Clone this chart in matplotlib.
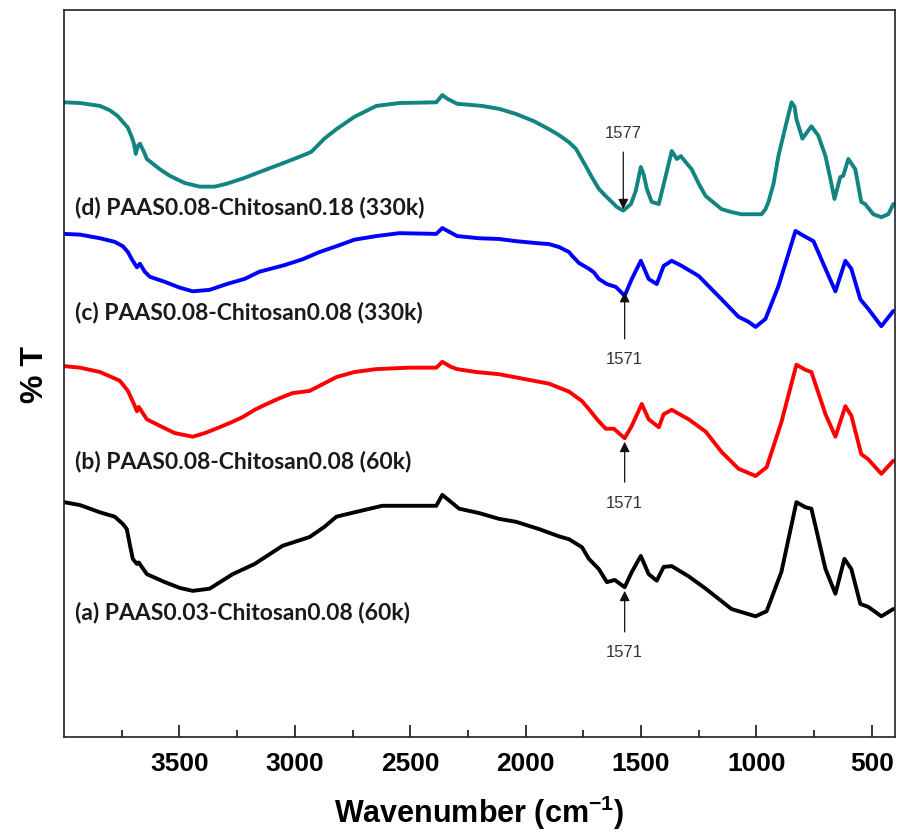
import matplotlib
matplotlib.use("Agg")
import matplotlib.pyplot as plt
from matplotlib.ticker import FixedLocator

plt.rcParams['mathtext.fontset'] = 'custom'
plt.rcParams['mathtext.rm'] = 'Liberation Sans:bold'
plt.rcParams['mathtext.bf'] = 'Liberation Sans:bold'

# (d) teal
wn_d = [4000, 3931, 3844, 3801, 3767, 3745, 3723, 3706, 3697, 3689, 3680, 3671, 3654, 3641,
        3585, 3542, 3477, 3412, 3347, 3295, 3218, 3153, 3045, 2980, 2949, 2928, 2906, 2872,
        2820, 2742, 2647, 2547, 2387, 2361, 2340, 2297, 2189, 2115, 2042, 1964, 1899, 1856,
        1812, 1782, 1739, 1713, 1683, 1653, 1627, 1605, 1577, 1544, 1523, 1501, 1488, 1475,
        1454, 1423, 1393, 1367, 1345, 1328, 1281, 1250, 1220, 1151, 1108, 1065, 1021, 978,
        961, 948, 926, 905, 874, 848, 835, 827, 801, 762, 732, 701, 680, 662, 637, 624, 602,
        572, 546, 529, 494, 459, 429, 407]
t_d = [87.3, 87.2, 86.8, 86.2, 85.4, 84.6, 83.8, 82.5, 81.6, 80.2, 81.3, 81.6, 80.5, 79.5,
       78.1, 77.2, 76.2, 75.7, 75.7, 76.1, 76.9, 77.7, 79.0, 79.8, 80.2, 80.5, 81.2, 82.3,
       83.6, 85.3, 86.8, 87.2, 87.3, 88.3, 87.8, 87.1, 86.8, 86.4, 85.7, 84.7, 83.6, 82.8,
       81.8, 80.9, 78.5, 77.0, 75.4, 74.4, 73.6, 72.9, 72.4, 73.3, 75.1, 78.4, 77.3, 75.4,
       73.6, 73.3, 77.2, 80.6, 79.5, 79.9, 78.1, 76.1, 74.4, 72.6, 72.2, 71.9, 71.9, 71.9,
       72.6, 73.6, 76.1, 79.9, 84.0, 87.3, 86.7, 85.0, 82.3, 84.0, 82.7, 79.9, 76.8, 74.0,
       77.0, 77.2, 79.5, 78.1, 73.6, 73.3, 71.9, 71.5, 71.9, 73.3]

# (c) blue
wn_c = [4000, 3931, 3844, 3780, 3745, 3723, 3706, 3684, 3671, 3650, 3628, 3563, 3498, 3442,
        3369, 3295, 3218, 3153, 3045, 2967, 2893, 2820, 2742, 2647, 2547, 2387, 2361, 2297,
        2202, 2115, 2042, 1942, 1899, 1856, 1812, 1799, 1769, 1726, 1704, 1683, 1648, 1609,
        1571, 1540, 1501, 1467, 1432, 1402, 1367, 1324, 1250, 1151, 1078, 1034, 1004, 961,
        905, 831, 788, 753, 701, 658, 615, 589, 550, 516, 459, 407]
t_c = [69.2, 69.1, 68.6, 68.1, 67.5, 66.7, 65.7, 64.6, 65.1, 64.0, 63.3, 62.6, 61.8, 61.3,
       61.5, 62.3, 63.0, 64.0, 64.9, 65.7, 66.7, 67.5, 68.4, 68.9, 69.3, 69.2, 70.0, 68.9,
       68.6, 68.5, 68.2, 67.9, 67.8, 67.4, 66.7, 66.2, 65.2, 64.4, 63.9, 63.0, 62.3, 61.9,
       60.7, 63.0, 65.5, 63.0, 62.3, 64.8, 65.5, 64.8, 63.4, 60.2, 57.8, 57.1, 56.4, 57.5,
       62.0, 69.6, 68.8, 68.2, 64.4, 61.3, 65.5, 64.4, 60.2, 58.9, 56.5, 58.6]

# (b) red
wn_b = [3996, 3931, 3844, 3758, 3723, 3697, 3684, 3676, 3641, 3585, 3520, 3442, 3390, 3326,
        3274, 3226, 3174, 3122, 3066, 3010, 2936, 2893, 2820, 2742, 2647, 2504, 2387, 2361,
        2323, 2297, 2214, 2115, 1899, 1812, 1756, 1726, 1691, 1653, 1618, 1571, 1540, 1497,
        1467, 1423, 1402, 1367, 1294, 1220, 1151, 1078, 1004, 956, 892, 827, 788, 762, 701,
        658, 615, 589, 546, 516, 459, 407]
t_b = [51.0, 50.8, 50.2, 49.0, 47.6, 45.8, 44.8, 45.4, 43.7, 42.8, 41.8, 41.3, 41.8, 42.6,
       43.3, 44.0, 45.0, 45.8, 46.6, 47.3, 47.6, 48.3, 49.5, 50.2, 50.6, 50.8, 50.8, 51.6,
       50.9, 50.6, 50.2, 49.9, 48.6, 47.5, 46.2, 45.1, 43.7, 42.4, 42.4, 41.1, 42.8, 45.8,
       43.7, 42.6, 44.4, 45.0, 43.7, 42.0, 39.2, 36.9, 35.9, 37.1, 43.3, 51.2, 50.5, 50.2,
       44.4, 41.3, 45.5, 44.2, 38.9, 38.2, 36.2, 38.0]

# (a) black
wn_a = [4000, 3931, 3844, 3780, 3745, 3728, 3715, 3702, 3684, 3676, 3641, 3563, 3498, 3442,
        3369, 3269, 3174, 3053, 2936, 2872, 2820, 2742, 2621, 2387, 2361, 2288, 2202, 2115,
        2042, 1942, 1856, 1812, 1756, 1726, 1683, 1648, 1614, 1571, 1540, 1501, 1467, 1432,
        1402, 1367, 1294, 1220, 1108, 1004, 956, 892, 827, 788, 762, 701, 658, 619, 589, 550,
        516, 459, 407]
t_a = [32.3, 31.9, 30.9, 30.3, 29.3, 28.6, 26.5, 24.5, 23.8, 24.0, 22.4, 21.3, 20.5, 20.1,
       20.4, 22.4, 23.8, 26.3, 27.5, 28.9, 30.3, 30.9, 31.8, 31.8, 33.3, 31.4, 30.8, 30.0,
       29.6, 28.6, 27.6, 27.2, 26.1, 24.5, 23.1, 21.3, 21.6, 20.6, 22.7, 24.9, 22.4, 21.5,
       23.4, 23.5, 22.1, 20.4, 17.6, 16.6, 17.3, 22.7, 32.3, 31.6, 31.4, 23.1, 19.7, 24.5,
       23.1, 18.3, 17.9, 16.6, 17.6]

labels = ['(d) PAAS0.08-Chitosan0.18 (330k)', '(c) PAAS0.08-Chitosan0.08 (330k)',
          '(b) PAAS0.08-Chitosan0.08 (60k)', '(a) PAAS0.03-Chitosan0.08 (60k)']
label_y = [72.9, 58.5, 38.0, 17.2]
colors = ['#138580', '#0000ff', '#ff0000', '#000000']

# peak markers: wavenumber, arrow tip, text position
peak_wn = [1577, 1571, 1571, 1571]
peak_tip = [72.6, 61.2, 40.6, 20.1]
peak_txt = [83.2, 52.0, 32.3, 11.7]

major_ticks = [3500, 3000, 2500, 2000, 1500, 1000, 500]
minor_ticks = [3750, 3250, 2750, 2250, 1750, 1250, 750]

fig = plt.figure(figsize=(9, 8.37), dpi=100)
ax = fig.add_axes([0.0711, 0.1183, 0.9233, 0.8686])

series = [(wn_d, t_d), (wn_c, t_c), (wn_b, t_b), (wn_a, t_a)]
for (w, t), c in zip(series, colors):
    ax.plot(w, t, color=c, lw=2.8, solid_joinstyle='round', solid_capstyle='round')

for lab, y in zip(labels, label_y):
    ax.text(3952, y, lab, fontsize=16.5, fontweight='bold', family='Lato',
            va='center', ha='left', color='#1a1a1a')

for w, tip, ty in zip(peak_wn, peak_tip, peak_txt):
    ax.annotate(str(w), xy=(w, tip), xytext=(w, ty), ha='center', va='center',
                fontsize=12, family='Liberation Sans', color='#333333',
                arrowprops=dict(arrowstyle='-|>', color='#111111', lw=0.9,
                                shrinkA=7, shrinkB=0, mutation_scale=15))

ax.set_xlim(4000, 400)
ax.set_ylim(0, 100)
ax.xaxis.set_major_locator(FixedLocator(major_ticks))
ax.xaxis.set_minor_locator(FixedLocator(minor_ticks))
ax.set_yticks([])
ax.tick_params(axis='x', which='major', direction='in', length=8.5, width=1.1, pad=10)
ax.tick_params(axis='x', which='minor', direction='in', length=4.8, width=1.1)
for lbl in ax.get_xticklabels():
    lbl.set_fontsize(19)
    lbl.set_fontweight('bold')
    lbl.set_family('Liberation Sans')
for s in ax.spines.values():
    s.set_linewidth(1.2)
    s.set_color('#222222')

ax.set_xlabel(r'Wavenumber (cm$^{\mathbf{-1}}$)', fontsize=22, fontweight='bold',
              family='Liberation Sans', labelpad=13)
ax.set_ylabel('% T', fontsize=23, fontweight='bold', family='Liberation Sans', labelpad=10)

fig.savefig('out.png', dpi=100)
